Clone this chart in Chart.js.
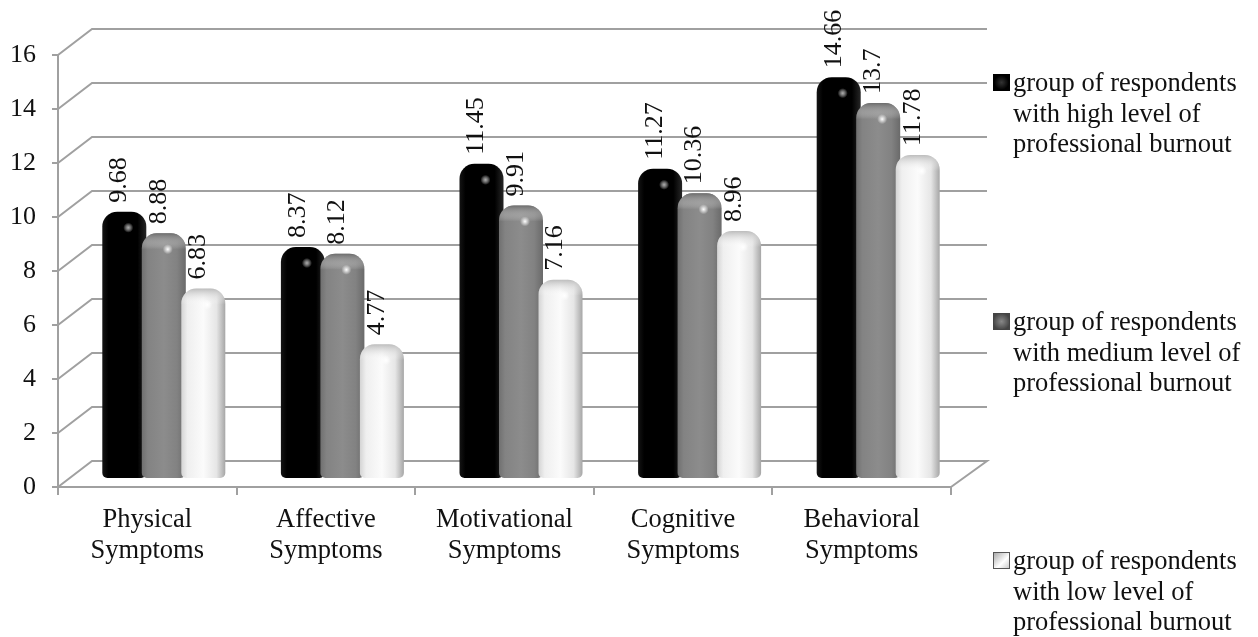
<!DOCTYPE html>
<html>
<head>
<meta charset="utf-8">
<script src="https://cdn.jsdelivr.net/npm/chart.js@4"></script>
<style>
    body { margin: 0; background: #fff; font-family: "Liberation Serif", serif; }
    #wrap { position: relative; width: 1258px; height: 637px; overflow: hidden; }
    .leyenda { position: absolute; left: 1013px; font-size: 26.5px; line-height: 30.5px; color: #111; white-space: pre; }
    .muestra { position: absolute; left: -20px; top: 7px; width: 17px; height: 17px; box-sizing: border-box; }
</style>
</head>
<body>
<div id="wrap">
    <canvas id="grafico" width="1258" height="637"></canvas>
</div>
<script>
const categories = [["Physical", "Symptoms"], ["Affective", "Symptoms"], ["Motivational", "Symptoms"], ["Cognitive", "Symptoms"], ["Behavioral", "Symptoms"]];
const highBurnout = [9.68, 8.37, 11.45, 11.27, 14.66];
const mediumBurnout = [8.88, 8.12, 9.91, 10.36, 13.7];
const lowBurnout = [6.83, 4.77, 7.16, 8.96, 11.78];
const seriesNames = [
    "group of respondents\nwith high level of\nprofessional burnout",
    "group of respondents\nwith medium level of\nprofessional burnout",
    "group of respondents\nwith low level of\nprofessional burnout"
];

// colores de cada cilindro de izq a der, aro superior, brillo
const shades = [
    { stops: ["#141414", "#000000", "#000000", "#000000", "#262626"], rim: "rgba(40,40,40,0.9)", dot: "rgba(190,190,190,0.9)" },
    { stops: ["#707070", "#838383", "#8c8c8c", "#828282", "#6a6a6a"], rim: "rgba(105,105,105,0.9)", dot: "rgba(255,255,255,1)" },
    { stops: ["#d4d4d4", "#efefef", "#fbfbfb", "#e6e6e6", "#a6a6a6"], rim: "rgba(185,185,185,0.95)", dot: "rgba(255,255,255,1)" }
];
const stopPositions = [0, 0.14, 0.5, 0.8, 1];
const legendTops = [67, 306, 545];
const swatchStyles = [
    "background:radial-gradient(circle,#333,#000 60%)",
    "background:radial-gradient(circle,#888,#444 80%);border:1px solid #444",
    "background:linear-gradient(135deg,#aaa,#fff 60%,#ccc);border:1px solid #555"
];

const AXIS_COLOR = "#a0a0a0";
const DEPTH_X = 34;      // profundidad de la pared trasera
const DEPTH_Y = 26;
const WALL_RIGHT = 987;
const BAR_SHIFT_X = 16.5;
const BAR_SHIFT_Y = -14;
const CATEGORY_PCT = 0.6635;
const FONT = '"Liberation Serif", serif';

function barFill(context) {
    const chart = context.chart;
    const set = shades[context.datasetIndex];
    if (!chart.chartArea) return set.stops[2];
    const x = chart.scales.x;
    const step = x.width / categories.length * CATEGORY_PCT / 3;
    const cx = x.getPixelForValue(context.dataIndex) + (context.datasetIndex - 1) * step;
    const g = chart.ctx.createLinearGradient(cx - 22, 0, cx + 22, 0);
    set.stops.forEach((c, i) => g.addColorStop(stopPositions[i], c));
    return g;
}

// paredes y piso falso 3D, a partir de la escala y
const wallPlugin = {
    id: "wall",
    beforeDatasetsDraw(chart) {
        const { ctx, scales: { x, y } } = chart;
        const left = x.left;
        ctx.save();
        ctx.strokeStyle = AXIS_COLOR;
        ctx.lineWidth = 2;
        y.ticks.forEach(t => {
            const py = y.getPixelForValue(t.value);
            ctx.beginPath();
            ctx.moveTo(left, py);
            ctx.lineTo(left + DEPTH_X, py - DEPTH_Y);
            ctx.lineTo(WALL_RIGHT, py - DEPTH_Y);
            if (t.value === 0) ctx.lineTo(x.right, py);
            ctx.stroke();
        });
        ctx.restore();
    }
};

// dibuja barras en orden inverso al de Chart.js para que la ultima quede arriba
const barsPlugin = {
    id: "bars",
    beforeDatasetsDraw(chart) {
        const ctx = chart.ctx;
        ctx.save();
        ctx.translate(BAR_SHIFT_X, BAR_SHIFT_Y);
        chart.data.datasets.forEach((ds, i) => {
            const meta = chart.getDatasetMeta(i);
            meta.controller.draw();
            meta.data.forEach(bar => {
                const set = shades[i];
                if (i > 0) {
                    const g = ctx.createLinearGradient(0, bar.y, 0, bar.y + 16);
                    g.addColorStop(0, set.rim);
                    g.addColorStop(1, "rgba(255,255,255,0)");
                    ctx.fillStyle = g;
                    ctx.beginPath();
                    ctx.roundRect(bar.x - bar.width / 2, bar.y, bar.width, 16, [15, 15, 0, 0]);
                    ctx.fill();
                }
                const d = ctx.createRadialGradient(bar.x + 4, bar.y + 16, 0, bar.x + 4, bar.y + 16, 5);
                d.addColorStop(0, set.dot);
                d.addColorStop(1, "rgba(255,255,255,0)");
                ctx.fillStyle = d;
                ctx.fillRect(bar.x - 2, bar.y + 10, 12, 12);
            });
        });
        ctx.restore();
        // etiquetas de valor rotadas
        ctx.save();
        ctx.fillStyle = "#111";
        ctx.font = "26px " + FONT;
        ctx.textAlign = "left";
        ctx.textBaseline = "middle";
        chart.data.datasets.forEach((ds, i) => {
            chart.getDatasetMeta(i).data.forEach((bar, j) => {
                ctx.save();
                ctx.translate(bar.x + BAR_SHIFT_X - 5, bar.y + BAR_SHIFT_Y - 9);
                ctx.rotate(-Math.PI / 2);
                ctx.fillText(String(ds.data[j]), 0, 0);
                ctx.restore();
            });
        });
        ctx.restore();
        return false;
    }
};

new Chart(document.getElementById("grafico"), {
    type: "bar",
    data: {
        labels: categories,
        datasets: [
            { label: seriesNames[0], data: highBurnout, backgroundColor: barFill },
            { label: seriesNames[1], data: mediumBurnout, backgroundColor: barFill },
            { label: seriesNames[2], data: lowBurnout, backgroundColor: barFill }
        ]
    },
    plugins: [wallPlugin, barsPlugin],
    options: {
        responsive: false,
        animation: false,
        layout: { padding: { top: 55, right: 307, left: 0, bottom: 0 } },
        datasets: {
            bar: {
                categoryPercentage: CATEGORY_PCT,
                barPercentage: 1.114,
                base: -0.185,
                borderWidth: 0,
                borderSkipped: false,
                borderRadius: { topLeft: 15, topRight: 15, bottomLeft: 5, bottomRight: 5 }
            }
        },
        plugins: {
            colors: { enabled: false },
            legend: { display: false },
            tooltip: { enabled: false }
        },
        scales: {
            x: {
                afterFit(scale) { scale.height = 150; },
                grid: { drawOnChartArea: false, color: AXIS_COLOR, lineWidth: 2, tickLength: 8, offset: true },
                border: { color: AXIS_COLOR, width: 2 },
                ticks: { color: "#111", font: { family: FONT, size: 26.5, lineHeight: 1.17 }, maxRotation: 0, padding: 10 }
            },
            y: {
                min: 0,
                max: 16,
                afterFit(scale) { scale.width = 58; },
                grid: { drawOnChartArea: false, color: AXIS_COLOR, lineWidth: 2, tickLength: 6 },
                border: { color: AXIS_COLOR, width: 2 },
                ticks: { stepSize: 2, color: "#111", font: { family: FONT, size: 26 }, padding: 16 }
            }
        }
    }
});

// leyenda HTML (tres bloques muy separados, no cabe en la leyenda normal)
seriesNames.forEach((name, i) => {
    const div = document.createElement("div");
    div.className = "leyenda";
    div.style.top = legendTops[i] + "px";
    div.innerHTML = `<span class="muestra" style="${swatchStyles[i]}"></span>`;
    div.appendChild(document.createTextNode(name));
    document.getElementById("wrap").appendChild(div);
});
</script>
</body>
</html>
